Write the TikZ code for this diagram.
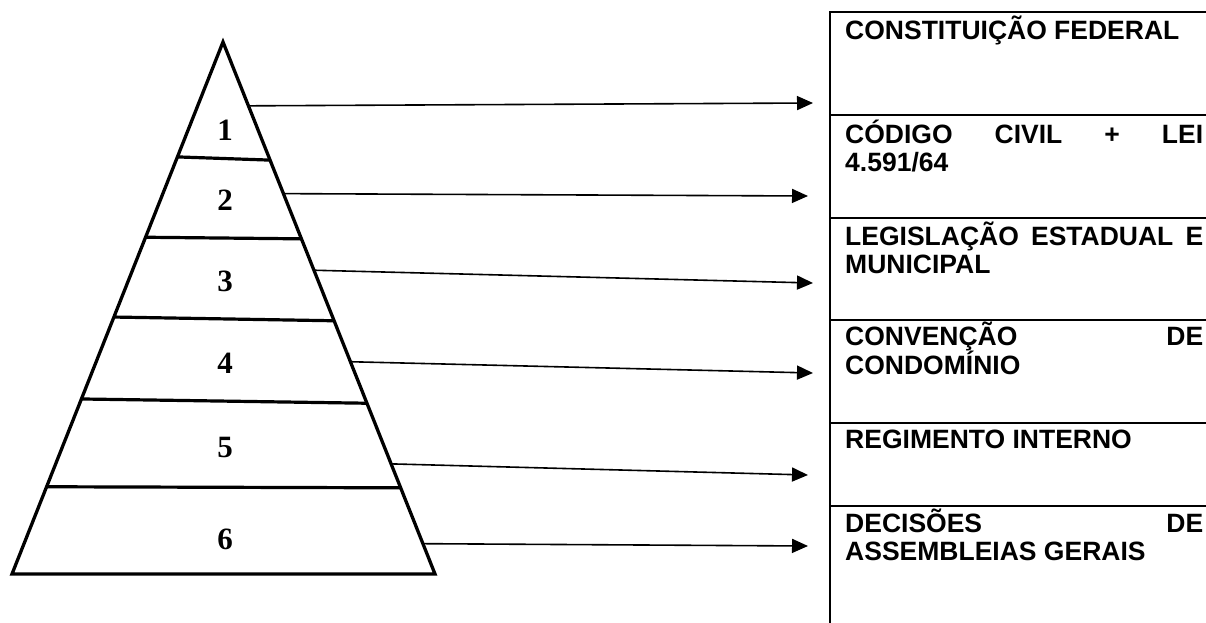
\documentclass[tikz,border=0pt]{standalone}
\usepackage{fontspec}
\setmainfont{Liberation Serif}
\newfontfamily\arialfont{Liberation Sans}
\usetikzlibrary{calc}
\usetikzlibrary{arrows.meta}
\hbadness=10000

\begin{document}
\begin{tikzpicture}
  [
    x=1pt, y=-1pt,
    tri/.style={draw=black, line width=3.3pt},
    band/.style={draw=black, line width=3.2pt},
    col/.style={draw=black, line width=2pt},
    lvl/.style={font=\fontsize{31}{31}\selectfont\bfseries, inner sep=0pt},
    cell/.style={text width=358pt, inner sep=0pt, align=justify,
      anchor=base west, font=\arialfont\bfseries\fontsize{26.5}{28.5}\selectfont},
    ld/.style={draw=black, line width=1.6pt,
      -{Triangle[length=16pt,width=14pt]}}
  ]
  \useasboundingbox (0,0) rectangle (1206,623);

  % pyramid
  \coordinate (apex) at (223,42);
  \coordinate (bl) at (12,574);
  \coordinate (br) at (435,574);
  \draw [tri] (apex) -- (br) -- (bl) -- cycle;

  \foreach \ta/\tb in {0.216/0.222, 0.367/0.370, 0.517/0.524, 0.671/0.679, 0.836/0.838}
    \draw [band] ($(apex)!\ta!(bl)$) -- ($(apex)!\tb!(br)$);

  \node (n1) at (225,130) [lvl] {1};
  \node (n2) at (225,200) [lvl] {2};
  \node (n3) at (225,281) [lvl] {3};
  \node (n4) at (225,363) [lvl] {4};
  \node (n5) at (225,447) [lvl] {5};
  \node (n6) at (225,539) [lvl] {6};

  % right column
  \draw [col] (830,623) -- (830,12) -- (1206,12);
  \foreach \y in {115,218,320,423,506}
    \draw [col] (830,\y) -- (1206,\y);

  \node (r1) at (845,40)  [cell] {CONSTITUIÇÃO FEDERAL};
  \node (r2) at (845,143) [cell] {CÓDIGO CIVIL + LEI\linebreak 4.591/64};
  \node (r3) at (845,245) [cell] {LEGISLAÇÃO ESTADUAL E\linebreak MUNICIPAL};
  \node (r4) at (845,345) [cell] {CONVENÇÃO DE\linebreak CONDOMÍNIO};
  \node (r5) at (845,448) [cell] {REGIMENTO INTERNO};
  \node (r6) at (845,532) [cell] {DECISÕES DE\linebreak ASSEMBLEIAS GERAIS};

  % arrows
  \foreach \i/\t/\ex/\ey in {1/0.120/813/103, 2/0.285/808/196, 3/0.429/813/283,
                             4/0.601/813/373, 5/0.793/808/475, 6/0.943/808/546}
  {
    \coordinate (s\i) at ($(apex)!\t!(br)$);
    \coordinate (e\i) at (\ex,\ey);
    \draw [ld] (s\i) -- (e\i);
  }
\end{tikzpicture}
\end{document}
